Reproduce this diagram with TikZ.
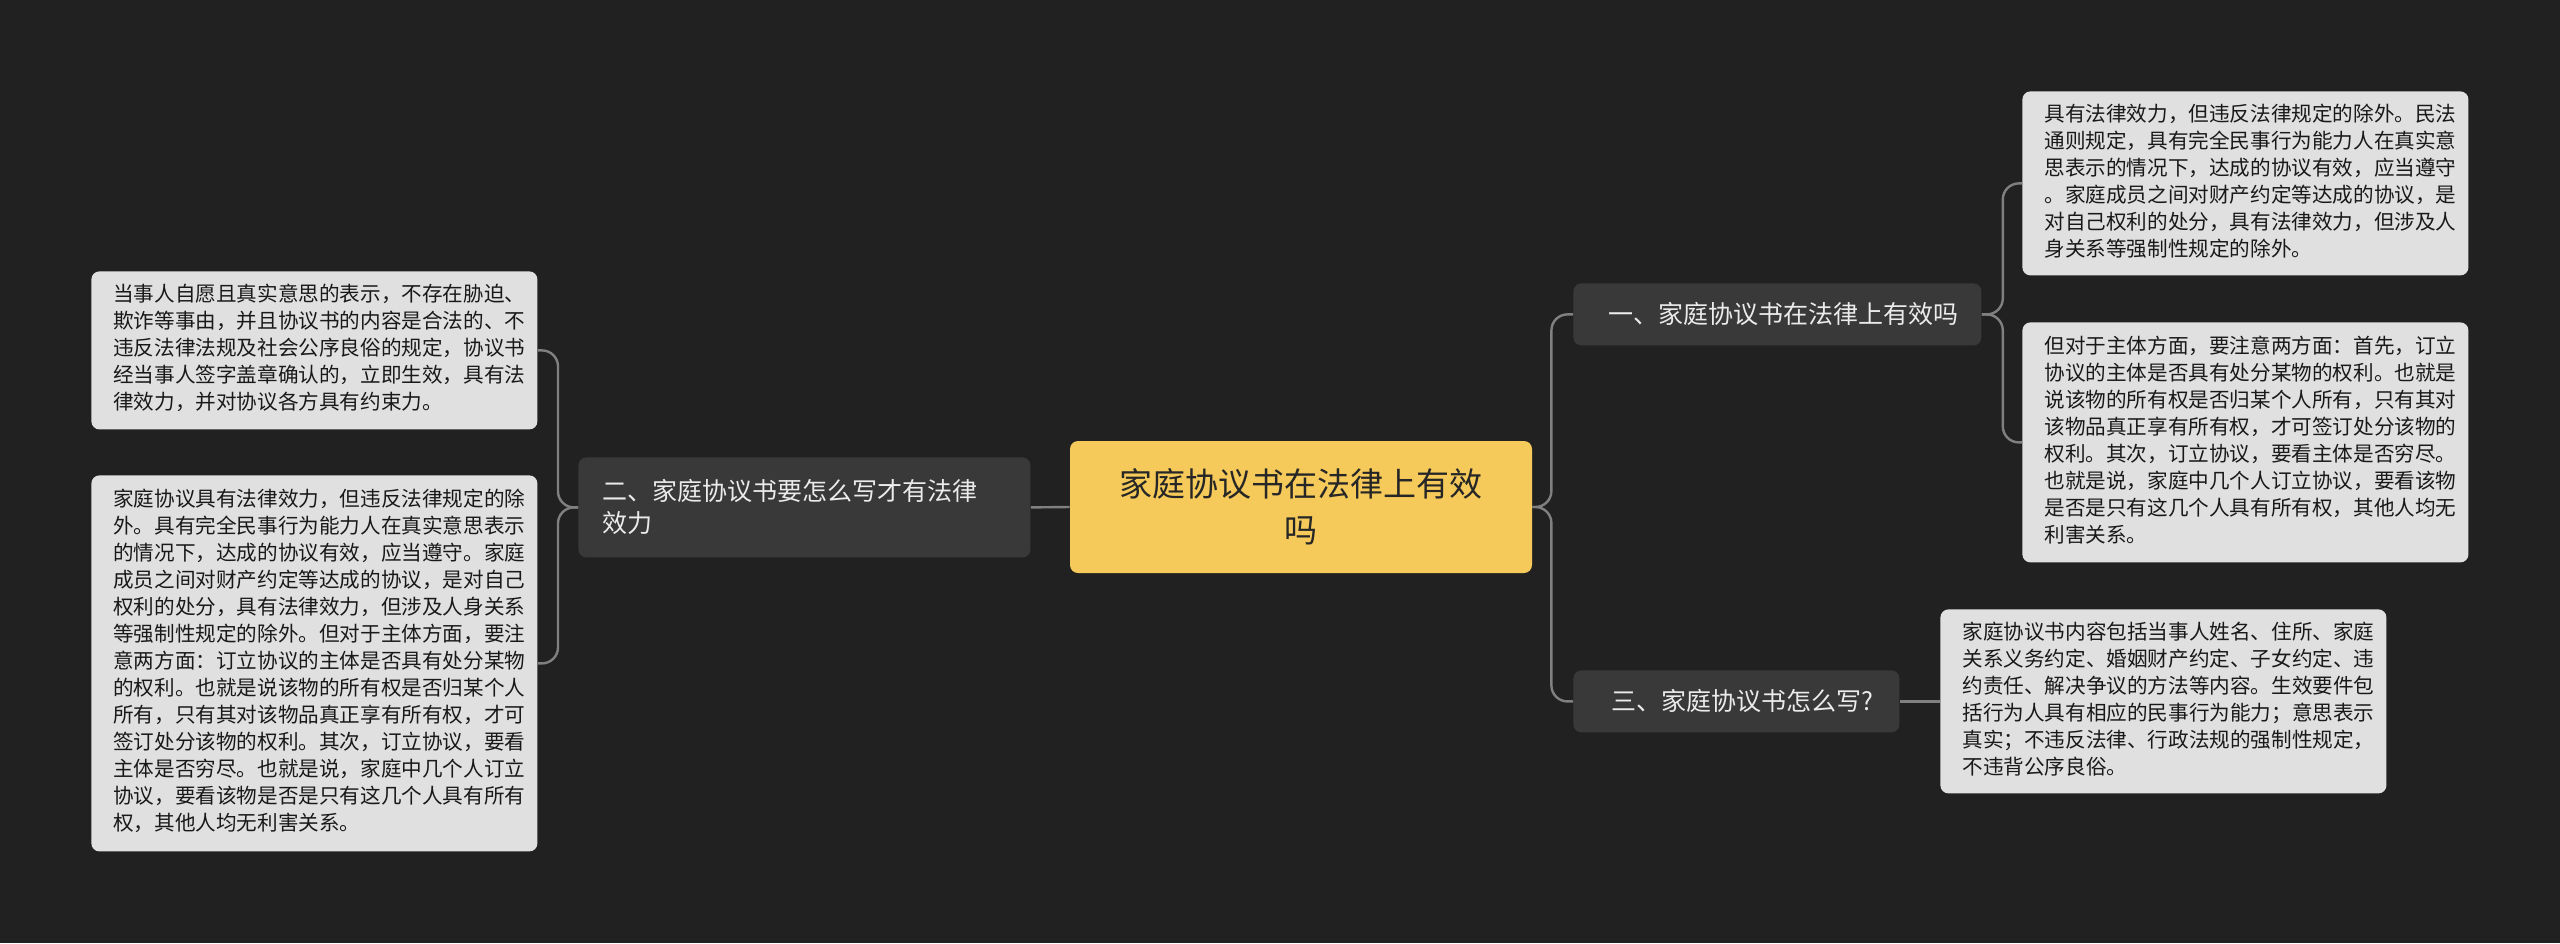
\documentclass[tikz,border=0pt]{standalone}
\usepackage{fontspec}
\setmainfont{Noto Sans CJK SC}
\begin{document}
\begin{tikzpicture}[x=0.5pt,y=-0.5pt,
  conn/.style={draw=gray!75!black!80, line width=1.2pt, rounded corners=8pt},
  leaf/.style={fill=black!12, rounded corners=4pt, anchor=north west, align=left, font=\fontsize{10.3pt}{13.5pt}\selectfont, text=black!90, inner sep=0pt},
  branch/.style={fill=black!62!orange!8, fill=gray!45!black, rounded corners=4pt, anchor=north west, text=white!92!black, font=\fontsize{12.5pt}{16pt}\selectfont, inner sep=0pt, align=left}]
\fill[black!87] (0,0) rectangle (2560,943);
\useasboundingbox (0,0) rectangle (2560,943);
% center
\node[fill={rgb,255:red,245;green,202;blue,90}, rounded corners=4pt, minimum width=231pt, minimum height=66pt, inner sep=0pt, align=center, font=\fontsize{16.5pt}{23pt}\selectfont, text=black!85] (c) at (1301,507) {家庭协议书在法律上有效\\吗};
% branches
\node[branch, minimum width=226pt, minimum height=50pt, text width=214pt] (b2) at (578,457) {\hspace*{6pt}二、家庭协议书要怎么写才有法律\\\hspace*{6pt}效力};
\node[branch, minimum width=204pt, minimum height=31pt] (b1) at (1573,283) {\hspace*{6pt}一、家庭协议书在法律上有效吗};
\node[branch, minimum width=163pt, minimum height=31pt] (b3) at (1573,670) {\hspace*{6pt}三、家庭协议书怎么写?};
% leaves
\node[leaf, minimum width=223pt, minimum height=79pt] (l1) at (91,271) {\hspace*{0pt}\begin{tabular}{@{\hspace{5pt}}l@{}}当事人自愿且真实意思的表示，不存在胁迫、\\欺诈等事由，并且协议书的内容是合法的、不\\违反法律法规及社会公序良俗的规定，协议书\\经当事人签字盖章确认的，立即生效，具有法\\律效力，并对协议各方具有约束力。\end{tabular}};
\node[leaf, minimum width=223pt, minimum height=188pt] (l2) at (91,475) {\begin{tabular}{@{\hspace{5pt}}l@{}}家庭协议具有法律效力，但违反法律规定的除\\外。具有完全民事行为能力人在真实意思表示\\的情况下，达成的协议有效，应当遵守。家庭\\成员之间对财产约定等达成的协议，是对自己\\权利的处分，具有法律效力，但涉及人身关系\\等强制性规定的除外。但对于主体方面，要注\\意两方面：订立协议的主体是否具有处分某物\\的权利。也就是说该物的所有权是否归某个人\\所有，只有其对该物品真正享有所有权，才可\\签订处分该物的权利。其次，订立协议，要看\\主体是否穷尽。也就是说，家庭中几个人订立\\协议，要看该物是否是只有这几个人具有所有\\权，其他人均无利害关系。\end{tabular}};
\node[leaf, minimum width=223pt, minimum height=92pt] (r1a) at (2022,91) {\begin{tabular}{@{\hspace{5pt}}l@{}}具有法律效力，但违反法律规定的除外。民法\\通则规定，具有完全民事行为能力人在真实意\\思表示的情况下，达成的协议有效，应当遵守\\。家庭成员之间对财产约定等达成的协议，是\\对自己权利的处分，具有法律效力，但涉及人\\身关系等强制性规定的除外。\end{tabular}};
\node[leaf, minimum width=223pt, minimum height=120pt] (r1b) at (2022,322) {\begin{tabular}{@{\hspace{5pt}}l@{}}但对于主体方面，要注意两方面：首先，订立\\协议的主体是否具有处分某物的权利。也就是\\说该物的所有权是否归某个人所有，只有其对\\该物品真正享有所有权，才可签订处分该物的\\权利。其次，订立协议，要看主体是否穷尽。\\也就是说，家庭中几个人订立协议，要看该物\\是否是只有这几个人具有所有权，其他人均无\\利害关系。\end{tabular}};
\node[leaf, minimum width=223pt, minimum height=92pt] (r3a) at (1940,609) {\begin{tabular}{@{\hspace{5pt}}l@{}}家庭协议书内容包括当事人姓名、住所、家庭\\关系义务约定、婚姻财产约定、子女约定、违\\约责任、解决争议的方法等内容。生效要件包\\括行为人具有相应的民事行为能力；意思表示\\真实；不违反法律、行政法规的强制性规定，\\不违背公序良俗。\end{tabular}};
% connectors
\draw[conn] (c.west) -- (b2.east);
\draw[conn] (b2.west) -- ++(-20,0) |- (l1.east);
\draw[conn] (b2.west) -- ++(-20,0) |- (l2.east);
\draw[conn] (c.east) -- ++(19,0) |- (b1.west);
\draw[conn] (c.east) -- ++(19,0) |- (b3.west);
\draw[conn] (b1.east) -- ++(21,0) |- (r1a.west);
\draw[conn] (b1.east) -- ++(21,0) |- (r1b.west);
\draw[conn] (b3.east) -- (b3.east -| r3a.west);
\end{tikzpicture}
\end{document}
